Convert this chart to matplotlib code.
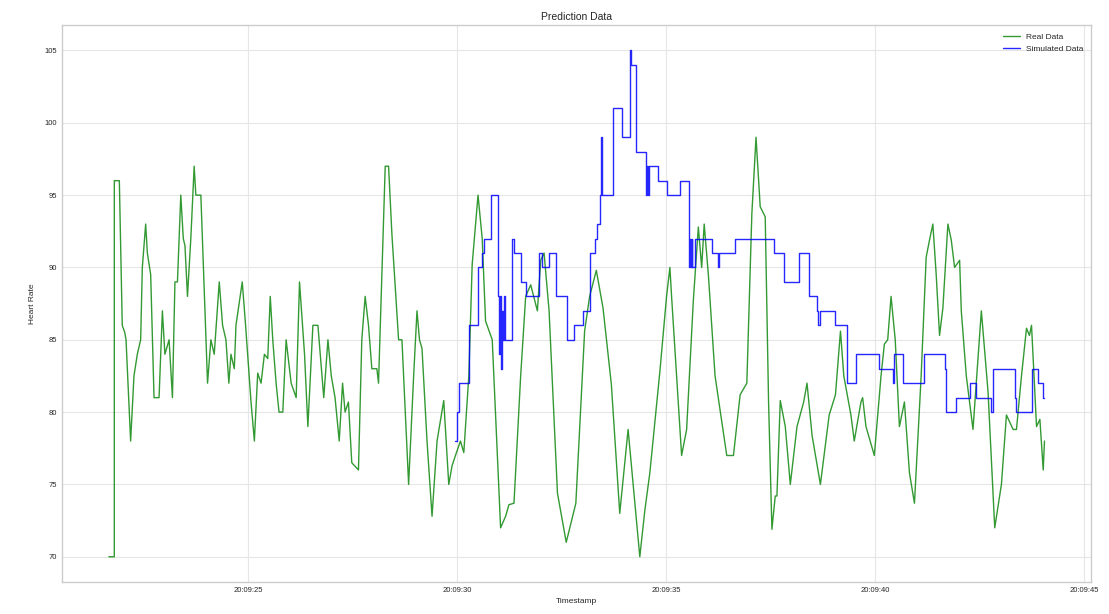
import matplotlib
matplotlib.use("Agg")
import matplotlib.pyplot as plt
import matplotlib.dates as mdates
import pandas as pd

# seconds after 20:09:00 and heart rate (bpm)
real_sec = [
    21.67, 21.80, 21.80, 21.92, 21.99, 22.05, 22.08, 22.19, 22.27, 22.35,
    22.43, 22.47, 22.55, 22.59, 22.67, 22.75, 22.87, 22.95, 23.01, 23.11,
    23.19, 23.25, 23.31, 23.39, 23.45, 23.49, 23.55, 23.63, 23.71, 23.75,
    23.87, 24.03, 24.11, 24.19, 24.31, 24.39, 24.47, 24.54, 24.59, 24.67,
    24.71, 24.86, 24.94, 25.07, 25.15, 25.23, 25.31, 25.39, 25.47, 25.53,
    25.59, 25.67, 25.74, 25.83, 25.91, 26.03, 26.15, 26.23, 26.35, 26.43,
    26.55, 26.67, 26.81, 26.91, 26.99, 27.08, 27.18, 27.26, 27.32, 27.40,
    27.48, 27.64, 27.72, 27.80, 27.88, 27.96, 28.08, 28.12, 28.20, 28.28,
    28.36, 28.44, 28.60, 28.68, 28.84, 28.96, 29.04, 29.10, 29.16, 29.28,
    29.40, 29.52, 29.68, 29.80, 29.88, 29.96, 30.08, 30.16, 30.28, 30.36,
    30.50, 30.60, 30.68, 30.84, 31.04, 31.16, 31.24, 31.36, 31.52, 31.64,
    31.76, 31.92, 32.00, 32.08, 32.20, 32.40, 32.61, 32.84, 33.05, 33.17,
    33.33, 33.49, 33.69, 33.89, 34.09, 34.37, 34.49, 34.61, 34.85, 35.01,
    35.09, 35.13, 35.25, 35.37, 35.49, 35.65, 35.77, 35.85, 35.91, 36.01,
    36.17, 36.45, 36.61, 36.77, 36.93, 37.05, 37.15, 37.25, 37.37, 37.45,
    37.53, 37.61, 37.65, 37.73, 37.85, 37.97, 38.13, 38.29, 38.37, 38.49,
    38.69, 38.90, 39.05, 39.17, 39.25, 39.42, 39.50, 39.66, 39.70, 39.78,
    39.98, 40.14, 40.22, 40.30, 40.38, 40.48, 40.58, 40.70, 40.82, 40.94,
    41.10, 41.22, 41.30, 41.38, 41.46, 41.54, 41.62, 41.74, 41.82, 41.90,
    42.02, 42.06, 42.18, 42.34, 42.54, 42.70, 42.86, 43.02, 43.14, 43.30,
    43.38, 43.50, 43.62, 43.69, 43.74, 43.86, 43.94, 44.02, 44.05,
]
real_hr = [
    70, 70, 96, 96, 86, 85.5, 85, 78, 82.5, 84,
    85, 90, 93, 91, 89.5, 81, 81, 87, 84, 85,
    81, 89, 89, 95, 92, 91.5, 88, 92, 97, 95,
    95, 82, 85, 84, 89, 86, 85, 82, 84, 83,
    86, 89, 86, 80.7, 78, 82.7, 82, 84, 83.7, 88,
    85, 82, 80, 80, 85, 82, 81, 89, 84, 79,
    86, 86, 81, 85, 82.5, 81, 78, 82, 80, 80.7,
    76.5, 76, 85, 88, 86, 83, 83, 82, 89.5, 97,
    97, 92.3, 85, 85, 75, 82.5, 87, 85, 84.4, 78,
    72.8, 78, 80.8, 75, 76.3, 77, 78, 77.2, 82.5, 90.2,
    95, 92, 86.3, 85, 72, 72.8, 73.6, 73.7, 82.5, 88,
    88.8, 87, 90.5, 91, 87, 74.4, 71, 73.7, 85.6, 88,
    89.8, 87.2, 81.9, 73, 78.8, 70, 73.2, 75.8, 82.8, 88,
    90, 88, 82.5, 77, 78.8, 87.7, 92.8, 90, 93, 89.5,
    82.5, 77, 77, 81.2, 82, 93.7, 99, 94.2, 93.5, 80.7,
    71.9, 74.2, 74.2, 80.8, 79, 75, 79, 80.7, 82, 78.4,
    75, 79.8, 81.2, 85.6, 82.5, 79.8, 78, 80.7, 81, 79,
    77, 82.5, 84.7, 85, 88, 85, 79, 80.7, 75.8, 73.7,
    82.5, 90.7, 91.9, 93, 89.5, 85.3, 87.2, 93, 91.9, 90,
    90.5, 87, 82.5, 78.8, 87, 81.4, 72, 75, 79.8, 78.8,
    78.8, 82.5, 85.8, 85.3, 86, 79, 79.5, 76, 78,
]

sim_sec = [
    29.96, 30.00, 30.04, 30.28, 30.50, 30.60, 30.64, 30.80, 30.98, 31.00,
    31.02, 31.04, 31.06, 31.08, 31.10, 31.12, 31.14, 31.32, 31.36, 31.52,
    31.64, 31.96, 32.04, 32.20, 32.36, 32.64, 32.80, 33.00, 33.17, 33.30,
    33.35, 33.41, 33.43, 33.47, 33.73, 33.94, 34.13, 34.17, 34.29, 34.53,
    34.55, 34.57, 34.59, 34.65, 34.81, 35.01, 35.33, 35.55, 35.57, 35.59,
    35.61, 35.63, 35.69, 36.09, 36.25, 36.27, 36.65, 37.57, 37.81, 38.17,
    38.41, 38.61, 38.64, 38.67, 39.05, 39.33, 39.54, 40.10, 40.42, 40.44,
    40.66, 41.18, 41.66, 41.70, 41.94, 42.26, 42.42, 42.78, 42.82, 43.34,
    43.38, 43.74, 43.90, 44.02, 44.05,
]
sim_hr = [
    78, 80, 82, 86, 90, 91, 92, 95, 88, 84,
    88, 84, 83, 87, 85, 88, 85, 92, 91, 89,
    88, 91, 90, 91, 88, 85, 86, 87, 91, 92,
    93, 95, 99, 95, 101, 99, 105, 104, 98, 95,
    97, 95, 97, 97, 96, 95, 96, 90, 92, 90,
    92, 90, 92, 91, 90, 91, 92, 91, 89, 91,
    88, 87, 86, 87, 86, 82, 84, 83, 82, 84,
    82, 84, 83, 80, 81, 82, 81, 80, 83, 81,
    80, 83, 82, 81, 81,
]

base = pd.Timestamp("2024-01-01 20:09:00")
real_time = base + pd.to_timedelta(real_sec, unit="s")
sim_time = base + pd.to_timedelta(sim_sec, unit="s")

plt.style.use("seaborn-v0_8-whitegrid")

fig, ax = plt.subplots(figsize=(11.09, 6.14), dpi=100)
fig.subplots_adjust(left=0.056, right=0.984, bottom=0.052, top=0.959)

ax.plot(real_time, real_hr, color="green", lw=1.0, alpha=0.8, label="Real Data")
ax.plot(sim_time, sim_hr, color="blue", lw=1.0, alpha=0.85,
        drawstyle="steps-post", label="Simulated Data")

ax.xaxis.set_major_locator(mdates.SecondLocator(bysecond=range(0, 60, 5)))
ax.xaxis.set_major_formatter(mdates.DateFormatter("%H:%M:%S"))

ax.set_title("Prediction Data", fontsize=7.5, pad=4)
ax.set_xlabel("Timestamp", fontsize=6, labelpad=3)
ax.set_ylabel("Heart Rate", fontsize=6, labelpad=6)
ax.tick_params(labelsize=5.5)
ax.grid(True, color="#e6e6e6", lw=0.8)
for s in ax.spines.values():
    s.set_color("#cccccc")

ax.legend(loc="upper right", fontsize=6)

fig.savefig("out.png", dpi=100, facecolor="white")
